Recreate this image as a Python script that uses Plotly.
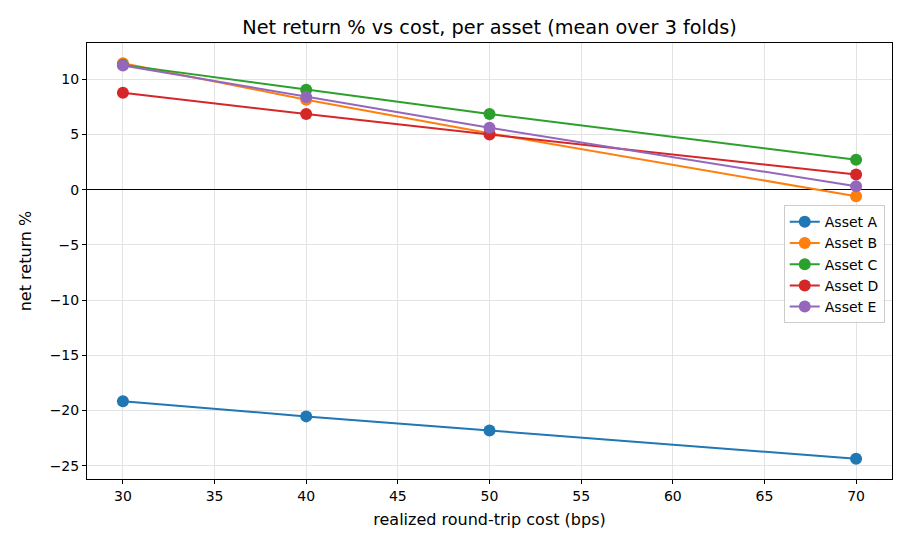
import plotly.graph_objects as go

costs = [30, 40, 50, 70]
asset_names = ["Asset A", "Asset B", "Asset C", "Asset D", "Asset E"]
asset_a = [-19.15, -20.53, -21.81, -24.37]
asset_b = [11.45, 8.15, 5.1, -0.6]
asset_c = [11.3, 9.05, 6.85, 2.71]
asset_d = [8.77, 6.85, 5.0, 1.37]
asset_e = [11.25, 8.4, 5.6, 0.3]
series = [asset_a, asset_b, asset_c, asset_d, asset_e]
colors = ["#1f77b4", "#ff7f0e", "#2ca02c", "#d62728", "#9467bd"]

fig = go.Figure()
for name, vals, c in zip(asset_names, series, colors):
    fig.add_trace(go.Scatter(x=costs, y=vals, name=name, mode="lines+markers",
                             line=dict(color=c, width=2),
                             marker=dict(color=c, size=12)))

fig.update_layout(
    width=910, height=546,
    margin=dict(l=87, r=18, t=43, b=67),
    paper_bgcolor="white", plot_bgcolor="white",
    font=dict(family="DejaVu Sans", size=13, color="black"),
    title=dict(text="Net return % vs cost, per asset (mean over 3 folds)",
               x=0.5, xref="paper", xanchor="center", y=0.951, yanchor="middle",
               font=dict(family="DejaVu Sans", size=19.3)),
    legend=dict(x=0.991, y=0.628, xanchor="right", yanchor="top",
                bgcolor="rgba(255,255,255,0.8)", bordercolor="#cccccc",
                borderwidth=1, font=dict(family="DejaVu Sans", size=14)),
    showlegend=True,
)
fig.update_xaxes(range=[28.04, 71.96], tickvals=[30, 35, 40, 45, 50, 55, 60, 65, 70],
                 tickfont=dict(size=14),
                 showline=True, linecolor="black", linewidth=1, mirror=True,
                 ticks="outside", ticklen=4, tickcolor="black",
                 showgrid=True, gridcolor="#e3e3e3", zeroline=False,
                 title=dict(text="realized round-trip cost (bps)", standoff=11))
fig.update_yaxes(range=[-26.2, 13.28], tickvals=[-25, -20, -15, -10, -5, 0, 5, 10],
                 tickformat="d", tickfont=dict(size=14),
                 showline=True, linecolor="black", linewidth=1, mirror=True,
                 ticks="outside", ticklen=4, tickcolor="black",
                 showgrid=True, gridcolor="#e3e3e3",
                 zeroline=True, zerolinecolor="black", zerolinewidth=1.2,
                 title=dict(text="net return %", standoff=14))

fig.write_html("out.html")
